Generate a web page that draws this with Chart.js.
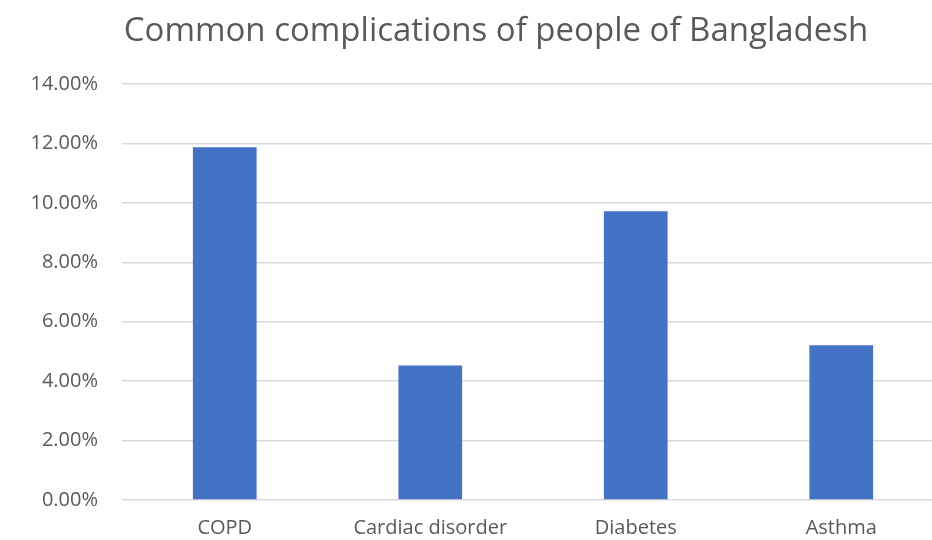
<!DOCTYPE html>
<html>
<head>
<meta charset="utf-8">
<script src="https://cdn.jsdelivr.net/npm/chart.js@4.4.1/dist/chart.umd.min.js"></script>
<style>
  html, body { margin: 0; padding: 0; background: #ffffff; overflow: hidden; }
  #wrap { position: relative; width: 944px; height: 540px; }
</style>
</head>
<body>
<div id="wrap"><canvas id="c"></canvas></div>
<script>
// Share of people with each complication (fractions, shown as percentages)
const categories = ['COPD', 'Cardiac disorder', 'Diabetes', 'Asthma'];
const shares = [0.1187, 0.0453, 0.0972, 0.0521];
const yTicks = [0, 0.02, 0.04, 0.06, 0.08, 0.10, 0.12, 0.14];
const titleText = 'Common complications of people of Bangladesh';

const grey = '#595959';

// Heading drawn centred over the figure, above the plot area
const headingPlugin = {
  id: 'heading',
  afterDraw(chart) {
    const ctx = chart.ctx;
    ctx.save();
    ctx.font = '33px "Open Sans"';
    ctx.fillStyle = grey;
    ctx.textAlign = 'center';
    ctx.textBaseline = 'middle';
    ctx.fillText(titleText, 496, 32);
    ctx.restore();
  }
};

new Chart(document.getElementById('c'), {
  type: 'bar',
  data: {
    labels: categories,
    datasets: [{
      data: shares,
      backgroundColor: '#4472C4',
      borderWidth: 0,
      categoryPercentage: 1.0,
      barPercentage: 0.31
    }]
  },
  plugins: [headingPlugin],
  options: {
    responsive: true,
    maintainAspectRatio: false,
    animation: false,
    devicePixelRatio: 1,
    layout: { padding: { top: 84, left: 0, right: 0, bottom: 0 } },
    plugins: {
      legend: { display: false },
      tooltip: { enabled: false },
      title: { display: false }
    },
    scales: {
      x: {
        grid: { display: false, drawTicks: false },
        border: { display: false },
        ticks: {
          color: grey,
          font: { family: 'Open Sans', size: 20 },
          padding: 16,
          maxRotation: 0
        },
        afterFit(scale) { scale.height = 40; }
      },
      y: {
        min: 0,
        max: 0.14,
        afterBuildTicks(scale) { scale.ticks = yTicks.map(v => ({ value: v })); },
        grid: { color: '#d9d9d9', lineWidth: 1.5, drawTicks: false },
        border: { display: false },
        ticks: {
          color: grey,
          font: { family: 'Open Sans', size: 20 },
          padding: 24,
          callback: v => (v * 100).toFixed(2) + '%'
        },
        afterFit(scale) { scale.width = 122; }
      }
    }
  }
});
</script>
</body>
</html>
